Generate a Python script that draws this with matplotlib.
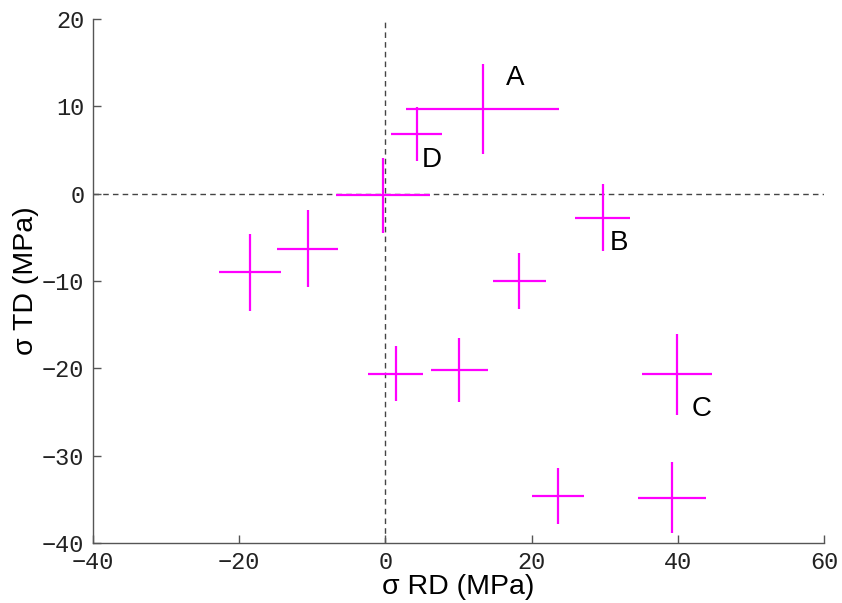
import matplotlib
matplotlib.use("Agg")
import matplotlib.pyplot as plt

# residual stress values (MPa) with error
rd = [13.3, 4.3, -0.3, 29.7, -18.5, -10.6, 1.4, 10.1, 18.3, 39.9, 23.6, 39.2]
td = [9.7, 6.8, -0.2, -2.75, -9.0, -6.3, -20.6, -20.2, -10.0, -20.7, -34.6, -34.8]
rd_err = [10.5, 3.5, 6.4, 3.8, 4.2, 4.2, 3.8, 3.9, 3.6, 4.8, 3.6, 4.65]
td_err = [5.2, 3.1, 4.3, 3.8, 4.4, 4.4, 3.1, 3.7, 3.2, 4.6, 3.2, 4.1]

point_names = ["A", "B", "C", "D"]
name_x = [17.7, 31.9, 43.3, 6.4]
name_y = [13.3, -5.7, -24.6, 3.9]

xticks = [-40, -20, 0, 20, 40, 60]
yticks = [-40, -30, -20, -10, 0, 10, 20]

fig = plt.figure(figsize=(8.42, 6.03), dpi=100)
ax = fig.add_axes([0.110, 0.0995, 0.869, 0.869])

ax.axhline(0, color="#444444", lw=1.0, ls=(0, (4, 3)), zorder=1)
ax.axvline(0, color="#444444", lw=1.0, ls=(0, (4, 3)), zorder=1)

ax.errorbar(rd, td, xerr=rd_err, yerr=td_err, fmt="none",
            ecolor="#ff00ff", elinewidth=1.6, capsize=0, zorder=2)

for n, x, y in zip(point_names, name_x, name_y):
    ax.text(x, y, n, ha="center", va="center", fontsize=20,
            family="Liberation Sans", color="black")

ax.set_xlim(-40, 60)
ax.set_ylim(-40, 20)
ax.set_xticks(xticks)
ax.set_yticks(yticks)

for s in ["top", "right"]:
    ax.spines[s].set_visible(False)
for s in ["left", "bottom"]:
    ax.spines[s].set_color("#555555")
    ax.spines[s].set_linewidth(1.0)

ax.tick_params(direction="in", length=6, width=1, color="#555555",
               labelsize=17, labelcolor="#222222", pad=6)
for lab in ax.get_xticklabels() + ax.get_yticklabels():
    lab.set_family("Liberation Mono")

ax.set_xlabel("σ RD (MPa)", fontsize=20.5, family="Liberation Sans", labelpad=0)
ax.set_ylabel("σ TD (MPa)", fontsize=20.5, family="Liberation Sans", labelpad=2)

fig.savefig("out.png", dpi=100)
